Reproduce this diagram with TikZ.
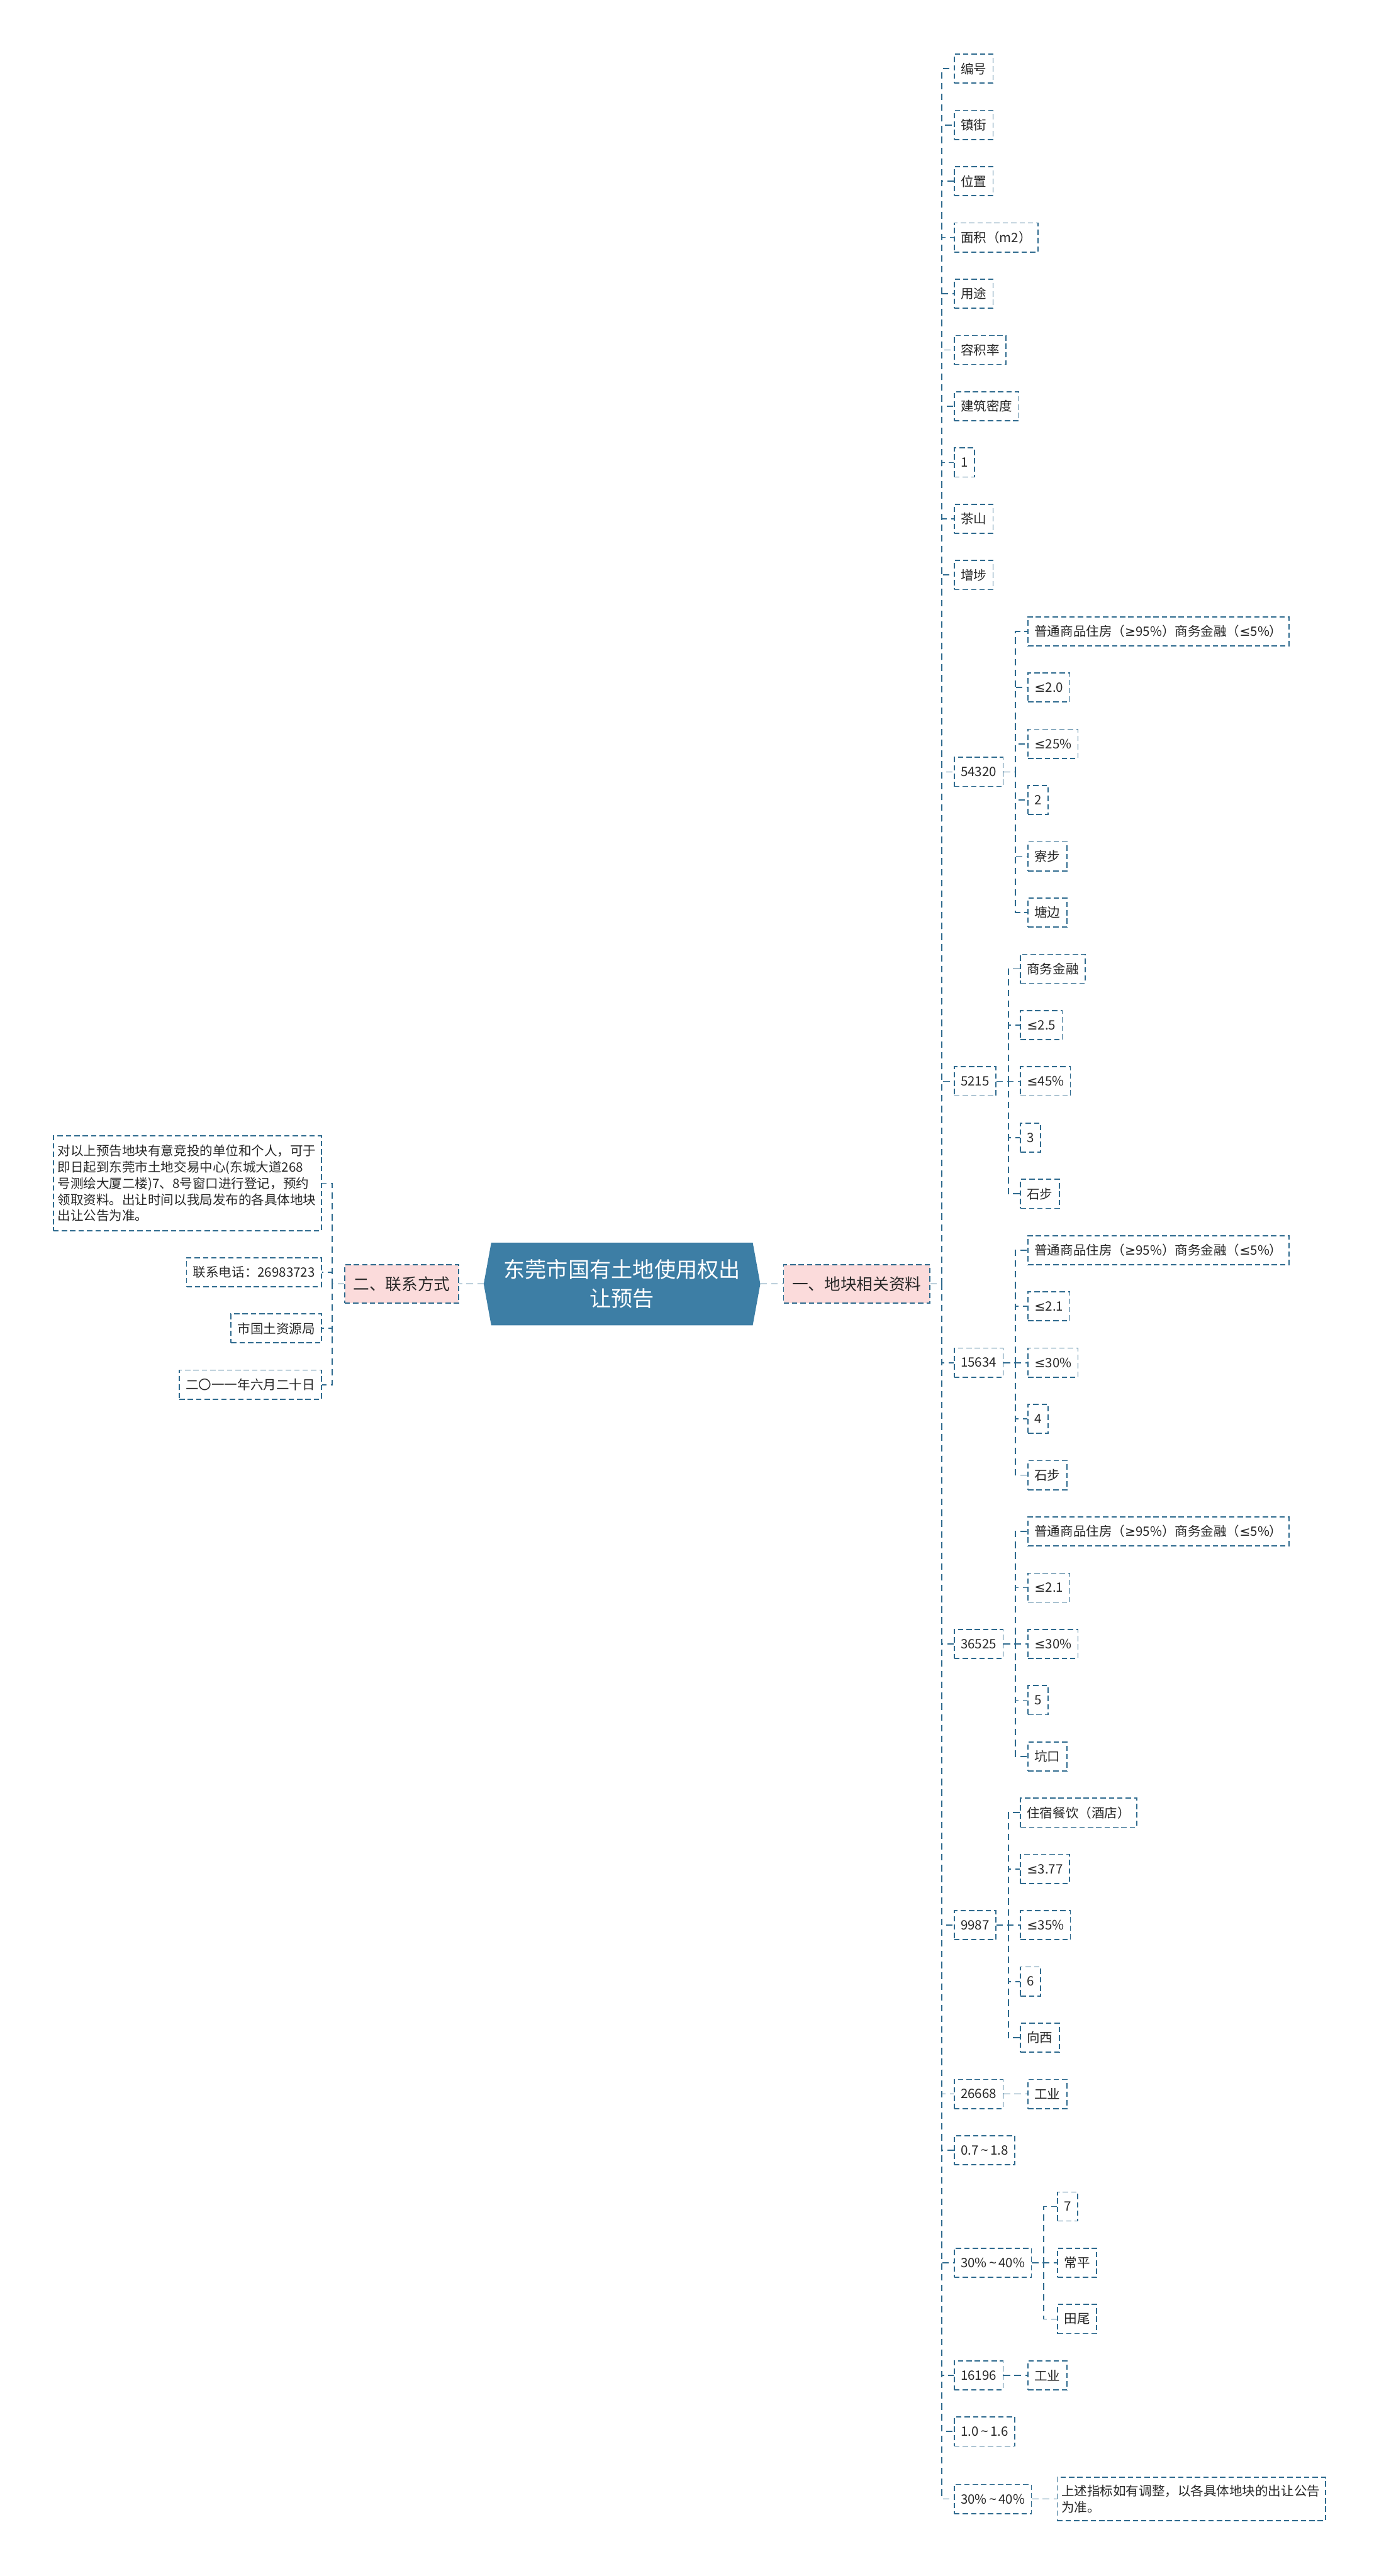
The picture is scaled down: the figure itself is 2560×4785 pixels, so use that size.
\documentclass[tikz,border=0pt]{standalone}
\usepackage{fontspec}
\setmainfont{Noto Sans CJK SC}
\newfontfamily\symfam{Noto Sans}
\newfontfamily\relfam{DejaVu Sans}
\usepackage{tikz}
\usetikzlibrary{positioning}
\usetikzlibrary{calc,backgrounds}

\definecolor{linecol}{RGB}{46,106,142}
\definecolor{rootcol}{RGB}{61,126,165}
\definecolor{pinkcol}{RGB}{251,219,219}
\definecolor{textcol}{RGB}{40,40,40}

\newcommand\lesign{{\relfam ≤}}
\newcommand\gesign{{\relfam ≥}}
\newcommand\tilsign{\,{\symfam \textasciitilde}\,}

\begin{document}
\begin{tikzpicture}[x=0.25pt, y=-0.25pt,
  leaf/.style={draw=linecol, line width=0.5pt, dash pattern=on 2.5pt off 1.4pt, text=textcol,
    font=\fontsize{6pt}{7.5pt}\selectfont, inner xsep=3pt, inner ysep=1pt, minimum height=13.5pt},
  topic/.style={leaf, fill=pinkcol, font=\fontsize{7.5pt}{9pt}\selectfont, inner xsep=4pt, minimum height=17.75pt},
  link/.style={draw=linecol, line width=0.5pt, dash pattern=on 3pt off 2pt}]

 \useasboundingbox (0,0) rectangle (2560,4785);

 %root
 \node[text=white, align=center, font=\fontsize{10pt}{13.25pt}\selectfont,
   minimum width=128pt, minimum height=38pt, inner sep=0pt] (root) at (1155,2385) {东莞市国有土地使用权出\\让预告};
 \begin{scope}[on background layer]
  \fill[rootcol] (root.west) -- ([xshift=3.5pt]root.north west) -- ([xshift=-3.5pt]root.north east)
    -- (root.east) -- ([xshift=-3.5pt]root.south east) -- ([xshift=3.5pt]root.south west) -- cycle;
 \end{scope}

 %level 1
 \node[topic, anchor=west] (land) at (1454,2385) {一、地块相关资料};
 \node[topic, anchor=east] (contact) at (853,2385) {二、联系方式};
 \draw[link] (root.east) -- (land.west);
 \draw[link] (root.west) -- (contact.east);

 %contact
 \node[leaf, anchor=east, align=left, text width=120.5pt, inner xsep=2pt, minimum height=44pt] (c0) at (598,2198)
   {对以上预告地块有意竞投的单位和个人，可于\\即日起到东莞市土地交易中心(东城大道268\\号测绘大厦二楼)7、8号窗口进行登记，预约\\领取资料。出让时间以我局发布的各具体地块\\出让公告为准。};
 \foreach \i/\name in {1/联系电话：26983723, 2/市国土资源局, 3/二〇一一年六月二十日} {
   \node[leaf, anchor=east] (c\i) at (598, 2258.5+104.5*\i) {\name};
 }
 \foreach \i in {0,...,3} {
   \draw[link] (contact.west) -- ++(-22,0) |- (c\i.east);
 }

 %land, level 2
 \foreach \i/\name in {0/编号, 1/镇街, 2/位置, 3/面积（m2）, 4/用途, 5/容积率, 6/建筑密度, 7/1, 8/茶山, 9/增埗} {
   \node[leaf, anchor=west] (a\i) at (1771, 127.6+104.5*\i) {\name};
 }
 \foreach \j/\r/\name in {10/12.5/54320, 11/18/5215, 12/23/15634, 13/28/36525, 14/33/9987,
     15/36/26668, 16/37/0.7\tilsign1.8, 17/39/30\%\tilsign40\%, 18/41/16196, 19/42/1.0\tilsign1.6} {
   \node[leaf, anchor=west] (a\j) at (1771, 127.6+104.5*\r) {\name};
 }
 \node[leaf, anchor=west] (a20) at (1771,4642) {30\%\tilsign40\%};
 \foreach \j in {0,...,20} {
   \draw[link] (land.east) -- ++(21,0) |- (a\j.west);
 }

 %level 3
 \def\dx{1908}
 \foreach \i/\name in {10/普通商品住房（\gesign95\%）商务金融（\lesign5\%）, 11/\lesign2.0, 12/\lesign25\%, 13/2, 14/寮步, 15/塘边} {
   \node[leaf, anchor=west] (b\i) at (\dx, 127.6+104.5*\i) {\name};
   \draw[link] (a10.east) -- ++(22,0) |- (b\i.west);
 }
 \def\dx{1894}
 \foreach \i/\name in {16/商务金融, 17/\lesign2.5, 18/\lesign45\%, 19/3, 20/石步} {
   \node[leaf, anchor=west] (b\i) at (\dx, 127.6+104.5*\i) {\name};
   \draw[link] (a11.east) -- ++(22,0) |- (b\i.west);
 }
 \def\dx{1908}
 \foreach \i/\name in {21/普通商品住房（\gesign95\%）商务金融（\lesign5\%）, 22/\lesign2.1, 23/\lesign30\%, 24/4, 25/石步} {
   \node[leaf, anchor=west] (b\i) at (\dx, 127.6+104.5*\i) {\name};
   \draw[link] (a12.east) -- ++(22,0) |- (b\i.west);
 }
 \foreach \i/\name in {26/普通商品住房（\gesign95\%）商务金融（\lesign5\%）, 27/\lesign2.1, 28/\lesign30\%, 29/5, 30/坑口} {
   \node[leaf, anchor=west] (b\i) at (\dx, 127.6+104.5*\i) {\name};
   \draw[link] (a13.east) -- ++(22,0) |- (b\i.west);
 }
 \def\dx{1894}
 \foreach \i/\name in {31/住宿餐饮（酒店）, 32/\lesign3.77, 33/\lesign35\%, 34/6, 35/向西} {
   \node[leaf, anchor=west] (b\i) at (\dx, 127.6+104.5*\i) {\name};
   \draw[link] (a14.east) -- ++(22,0) |- (b\i.west);
 }
 \node[leaf, anchor=west] (b36) at (1908, 127.6+104.5*36) {工业};
 \draw[link] (a15.east) -- (b36.west);
 \def\dx{1963}
 \foreach \i/\name in {38/7, 39/常平, 40/田尾} {
   \node[leaf, anchor=west] (b\i) at (\dx, 127.6+104.5*\i) {\name};
   \draw[link] (a17.east) -- ++(22,0) |- (b\i.west);
 }
 \node[leaf, anchor=west] (b41) at (1908, 127.6+104.5*41) {工业};
 \draw[link] (a18.east) -- (b41.west);
 \node[leaf, anchor=west, align=left, text width=120.5pt, inner xsep=2pt, minimum height=20.25pt] (b43) at (1962,4642)
   {上述指标如有调整，以各具体地块的出让公告\\为准。};
 \draw[link] (a20.east) -- (b43.west);

\end{tikzpicture}
\end{document}
